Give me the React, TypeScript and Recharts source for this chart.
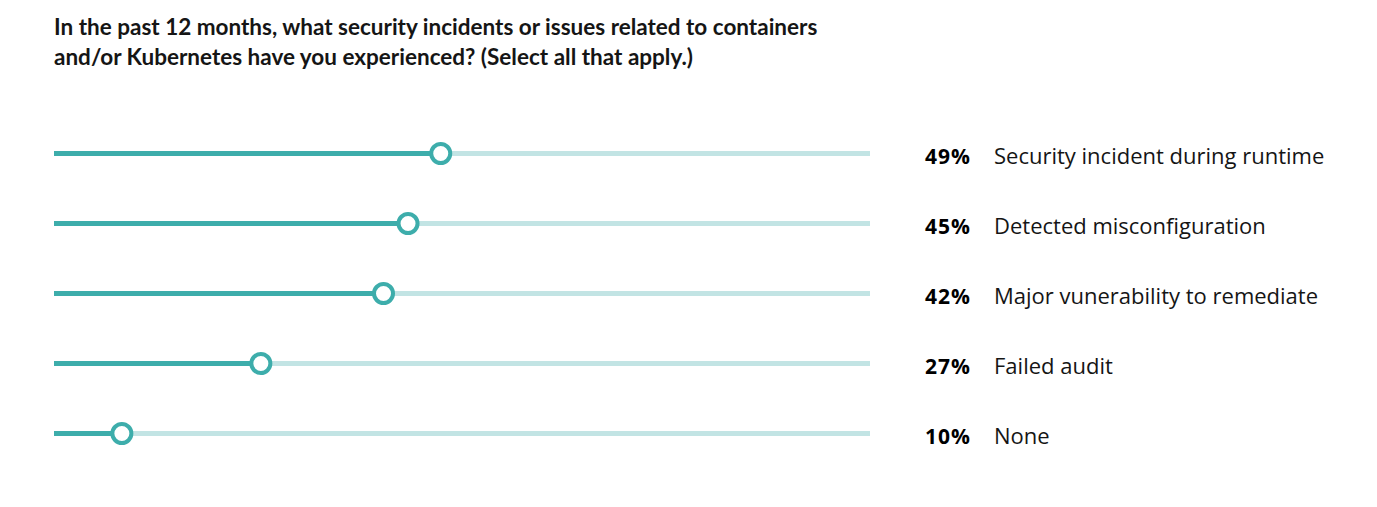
import React from "react";
import { ComposedChart, Bar, XAxis, YAxis } from "recharts";

const categories = [
  "Security incident during runtime",
  "Detected misconfiguration",
  "Major vunerability to remediate",
  "Failed audit",
  "None",
];
const values = [49, 45, 42, 27, 10];
const percentLabels = ["49%", "45%", "42%", "27%", "10%"];

const data = categories.map((name, i) => ({ name, value: values[i], pct: percentLabels[i] }));

const DARK = "#3DADAB";
const LIGHT = "#C2E4E4";

const SliderShape = (props: any) => {
  const { x, y, width, height, background } = props;
  const cy = y + height / 2;
  const left = background.x;
  const right = background.x + background.width;
  const end = x + width;
  return (
    <g>
      <rect x={left} y={y} width={right - left} height={height} fill={LIGHT} />
      <rect x={left} y={y} width={Math.max(0, end - left)} height={height} fill={DARK} />
      <circle cx={end} cy={cy} r={9.5} fill="#ffffff" stroke={DARK} strokeWidth={4} />
    </g>
  );
};

const RightTick = (props: any) => {
  const { x, y, payload, index } = props;
  const row = data.find((d) => d.name === payload.value) || data[index];
  return (
    <g>
      <text x={x + 55} y={y + 10.5} fontFamily="Open Sans, sans-serif" fontWeight={700} fontSize={21} letterSpacing={1} fill="#000">
        {row.pct}
      </text>
      <text x={x + 124} y={y + 10.5} fontFamily="Open Sans, sans-serif" fontWeight={400} fontSize={22} fill="#151515">
        {row.name}
      </text>
    </g>
  );
};

export default function App() {
  return (
    <div style={{ position: "relative", width: 1360, height: 490, background: "#fff" }}>
      <div
        style={{
          position: "absolute",
          left: 46,
          top: 4,
          fontFamily: "Lato, sans-serif",
          fontWeight: 700,
          fontSize: 22.5,
          lineHeight: "30px",
          color: "#151515",
          width: 900,
        }}
      >
        In the past 12 months, what security incidents or issues related to containers
        <br />
        and/or Kubernetes have you experienced? (Select all that apply.)
      </div>
      <ComposedChart
        width={1360}
        height={490}
        data={data}
        layout="vertical"
        margin={{ top: 110, right: 0, bottom: 30, left: 46 }}
      >
        <XAxis type="number" domain={[1.7, 101.5]} hide allowDataOverflow />
        <YAxis type="category" dataKey="name" hide />
        <YAxis
          yAxisId="right"
          orientation="right"
          type="category"
          dataKey="name"
          width={498}
          axisLine={false}
          tickLine={false}
          tickSize={0}
          tickMargin={0}
          tick={<RightTick />}
        />
        <Bar
          dataKey="value"
          barSize={5}
          isAnimationActive={false}
          background={{ fill: "transparent" }}
          shape={<SliderShape />}
        />
      </ComposedChart>
    </div>
  );
}
